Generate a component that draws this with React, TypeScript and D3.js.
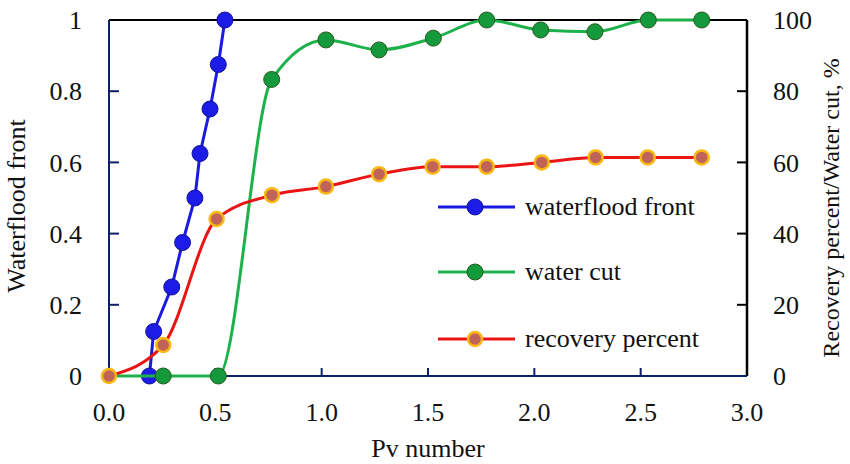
import React, { useEffect, useRef } from 'react';
import * as d3 from 'd3';

// Pv number vs waterflood front (left axis)
const frontPv = [0.19, 0.21, 0.295, 0.346, 0.404, 0.428, 0.475, 0.514, 0.545];
const frontVal = [0, 0.125, 0.25, 0.375, 0.5, 0.625, 0.75, 0.875, 1.0];

// Pv number vs water cut, % (right axis)
const cutPv = [0, 0.255, 0.514, 0.765, 1.02, 1.27, 1.525, 1.776, 2.03, 2.285, 2.536, 2.787];
const cutVal = [0, 0, 0, 83.3, 94.4, 91.6, 94.9, 100, 97.2, 96.7, 100, 100];
const cutMarked = [false, true, true, true, true, true, true, true, true, true, true, true];

// Pv number vs recovery percent, % (right axis)
const recPv = [0, 0.255, 0.506, 0.766, 1.02, 1.27, 1.522, 1.776, 2.035, 2.288, 2.533, 2.787];
const recVal = [0, 8.7, 44.1, 50.8, 53.2, 56.7, 58.8, 58.8, 60.0, 61.4, 61.4, 61.4];

const xTicks = [0, 0.5, 1.0, 1.5, 2.0, 2.5, 3.0];
const leftTicks = [0, 0.2, 0.4, 0.6, 0.8, 1];
const rightTicks = [0, 20, 40, 60, 80, 100];

const legendItems = ['waterflood front', 'water cut', 'recovery percent'];

const FONT = "'Liberation Serif', 'DejaVu Serif', serif";
const NAVY = '#0c1f6b';

const WaterfloodChart = () => {
  const svgRef = useRef(null);

  useEffect(() => {
    const width = 850;
    const height = 464;
    const margin = { top: 20, right: 103, bottom: 88, left: 109 };
    const innerW = width - margin.left - margin.right;
    const innerH = height - margin.top - margin.bottom;

    const root = d3.select(svgRef.current);
    root.selectAll('*').remove();
    root.attr('width', width).attr('height', height).style('font-family', FONT);

    const g = root.append('g').attr('transform', `translate(${margin.left},${margin.top})`);

    const x = d3.scaleLinear().domain([0, 3]).range([0, innerW]);
    const yL = d3.scaleLinear().domain([0, 1]).range([innerH, 0]);
    const yR = d3.scaleLinear().domain([0, 100]).range([innerH, 0]);

    // frame: top and right black, left and bottom navy
    g.append('line').attr('x1', 0).attr('x2', innerW).attr('y1', 0).attr('y2', 0)
      .attr('stroke', '#000').attr('stroke-width', 2);
    g.append('line').attr('x1', innerW).attr('x2', innerW).attr('y1', 0).attr('y2', innerH)
      .attr('stroke', '#000').attr('stroke-width', 2.5);

    // right ticks + labels
    rightTicks.forEach(t => {
      if (t > 0 && t < 100) {
        g.append('line').attr('x1', innerW - 10).attr('x2', innerW)
          .attr('y1', yR(t)).attr('y2', yR(t)).attr('stroke', '#000').attr('stroke-width', 2);
      }
      g.append('text').attr('x', innerW + 26).attr('y', yR(t)).attr('dy', '0.35em')
        .style('font-family', FONT).attr('font-size', 26).attr('fill', '#111').text(t);
    });

    g.append('line').attr('x1', 0).attr('x2', 0).attr('y1', 0).attr('y2', innerH)
      .attr('stroke', NAVY).attr('stroke-width', 2);
    g.append('line').attr('x1', 0).attr('x2', innerW).attr('y1', innerH).attr('y2', innerH)
      .attr('stroke', NAVY).attr('stroke-width', 2);

    leftTicks.forEach(t => {
      if (t > 0 && t < 1) {
        g.append('line').attr('x1', 0).attr('x2', 10)
          .attr('y1', yL(t)).attr('y2', yL(t)).attr('stroke', NAVY).attr('stroke-width', 2);
      }
      g.append('text').attr('x', -27).attr('y', yL(t)).attr('dy', '0.35em')
        .attr('text-anchor', 'end').style('font-family', FONT).attr('font-size', 26)
        .attr('fill', '#111').text(String(t));
    });

    xTicks.forEach(t => {
      if (t > 0 && t < 3) {
        g.append('line').attr('x1', x(t)).attr('x2', x(t))
          .attr('y1', innerH).attr('y2', innerH - 8).attr('stroke', NAVY).attr('stroke-width', 2);
      }
      g.append('text').attr('x', x(t)).attr('y', innerH + 45)
        .attr('text-anchor', 'middle').style('font-family', FONT).attr('font-size', 26)
        .attr('fill', '#111').text(t.toFixed(1));
    });

    // axis titles
    g.append('text').attr('x', innerW / 2).attr('y', innerH + 81)
      .attr('text-anchor', 'middle').style('font-family', FONT).attr('font-size', 26)
      .attr('fill', '#111').text('Pv number');
    g.append('text')
      .attr('transform', `translate(${-84},${innerH / 2 + 8}) rotate(-90)`)
      .attr('text-anchor', 'middle').style('font-family', FONT).attr('font-size', 26)
      .attr('fill', '#111').text('Waterflood front');
    g.append('text')
      .attr('transform', `translate(${innerW + 92},${innerH / 2 + 10}) rotate(-90)`)
      .attr('text-anchor', 'middle').style('font-family', FONT).attr('font-size', 24)
      .attr('fill', '#111').text('Recovery percent/Water cut, %');

    // series
    const front = frontPv.map((p, i) => ({ p, v: frontVal[i] }));
    const cut = cutPv.map((p, i) => ({ p, v: cutVal[i], m: cutMarked[i] }));
    const rec = recPv.map((p, i) => ({ p, v: recVal[i] }));

    const frontLine = d3.line<any>().x(d => x(d.p)).y(d => yL(d.v));
    const rightLine = d3.line<any>().x(d => x(d.p)).y(d => yR(d.v)).curve(d3.curveMonotoneX);

    // waterflood front
    g.append('path').datum(front).attr('d', frontLine)
      .attr('fill', 'none').attr('stroke', '#1a1ae0').attr('stroke-width', 3);
    g.selectAll('.fm').data(front).enter().append('circle')
      .attr('cx', d => x(d.p)).attr('cy', d => yL(d.v)).attr('r', 8)
      .attr('fill', '#1c1ce6').attr('stroke', '#14149a').attr('stroke-width', 1);

    // water cut
    g.append('path').datum(cut).attr('d', rightLine)
      .attr('fill', 'none').attr('stroke', '#1cb14a').attr('stroke-width', 3);
    g.selectAll('.cm').data(cut.filter(d => d.m)).enter().append('circle')
      .attr('cx', d => x(d.p)).attr('cy', d => yR(d.v)).attr('r', 8)
      .attr('fill', '#14993c').attr('stroke', '#2c5a1e').attr('stroke-width', 1);

    // recovery percent
    g.append('path').datum(rec).attr('d', rightLine)
      .attr('fill', 'none').attr('stroke', '#ea1414').attr('stroke-width', 3);
    g.selectAll('.rm').data(rec).enter().append('circle')
      .attr('cx', d => x(d.p)).attr('cy', d => yR(d.v)).attr('r', 7)
      .attr('fill', '#c0645a').attr('stroke', '#f8b810').attr('stroke-width', 2.5);

    // legend
    const lineColors = ['#1a1ae0', '#1cb14a', '#ea1414'];
    const dotFill = ['#1c1ce6', '#14993c', '#c0645a'];
    const dotStroke = ['#14149a', '#2c5a1e', '#f8b810'];
    const legendY = [207, 272, 339];
    legendItems.forEach((name, i) => {
      const ly = legendY[i] - margin.top;
      const lx = 438 - margin.left;
      g.append('line').attr('x1', lx).attr('x2', lx + 77).attr('y1', ly).attr('y2', ly)
        .attr('stroke', lineColors[i]).attr('stroke-width', 3);
      g.append('circle').attr('cx', lx + 37).attr('cy', ly).attr('r', i === 2 ? 7 : 8)
        .attr('fill', dotFill[i]).attr('stroke', dotStroke[i]).attr('stroke-width', i === 2 ? 2.5 : 1);
      g.append('text').attr('x', lx + 87).attr('y', ly).attr('dy', '0.3em')
        .style('font-family', FONT).attr('font-size', 26).attr('fill', '#111').text(name);
    });
  }, []);

  return <svg ref={svgRef} style={{ display: 'block', position: 'absolute', left: 0, top: 0, background: '#fff' }} />;
};

export default function App() {
  return <WaterfloodChart />;
}
